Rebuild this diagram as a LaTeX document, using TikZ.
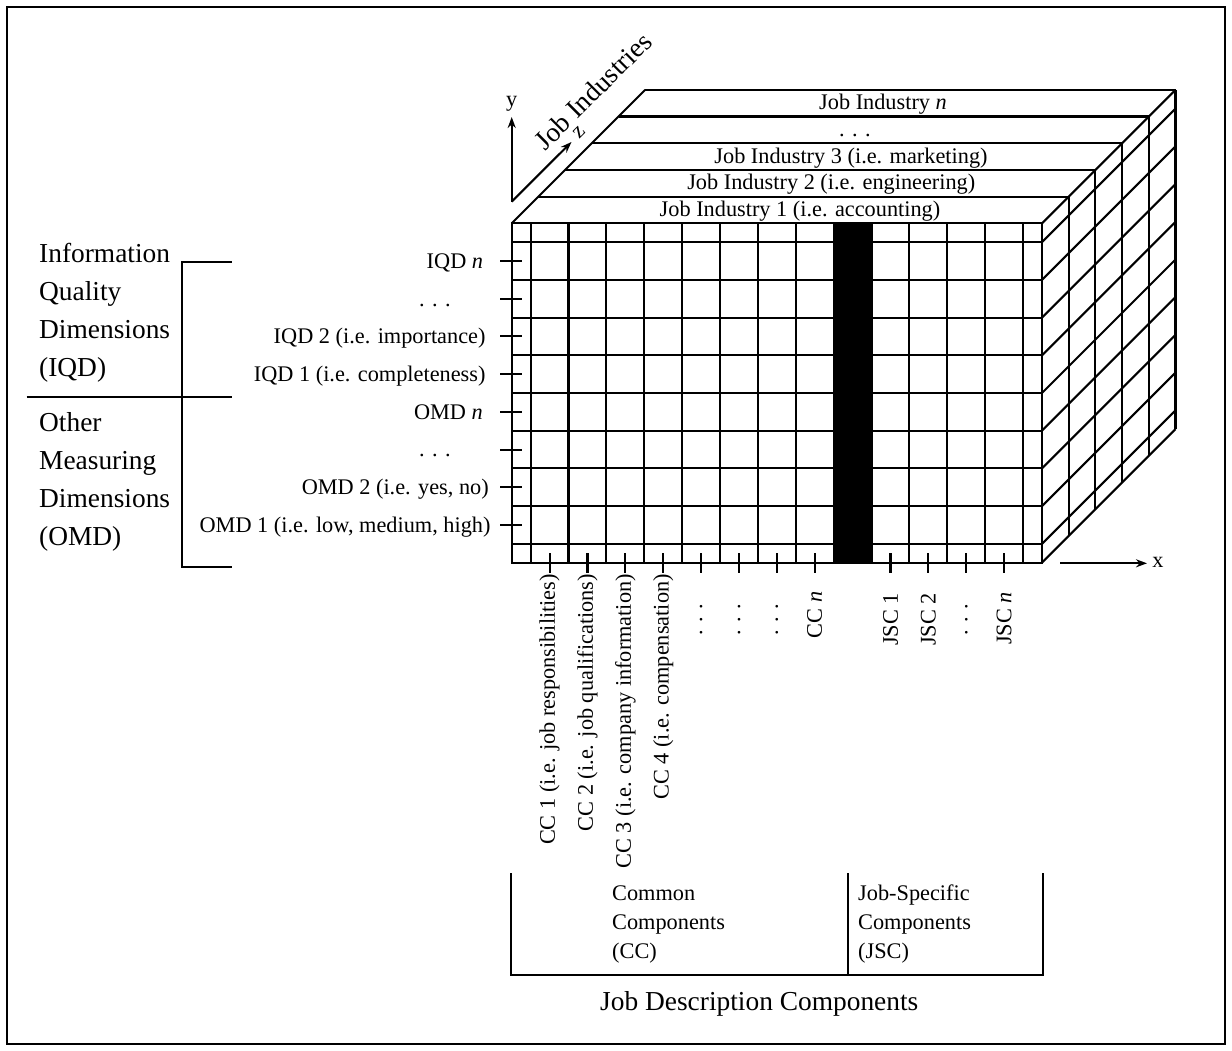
\documentclass[tikz,border=0pt]{standalone}
\usepackage{fontspec}
\setmainfont{Liberation Serif}
\usetikzlibrary{arrows.meta}
\begin{document}
\begin{tikzpicture}[x=1pt,y=-1pt,
  lbl/.style={font=\fontsize{22.3}{26}\selectfont, inner sep=0pt},
  big/.style={font=\fontsize{27.4}{38}\selectfont, inner sep=0pt},
  gl/.style={line width=2.1pt},
  ax/.style={line width=2.1pt, -{Stealth[length=11pt,width=8pt]}},
]
\useasboundingbox (0,0) rectangle (1232,1051);
\draw[line width=2.6pt] (7,7) rectangle (1225,1044);

\def\Xa{511.7}\def\Xb{1042}\def\Ya{223.3}\def\Yb{562.7}\def\dd{26.7}\def\cw{37.88}\def\rh{37.71}

% black column
\fill (\Xa+8.5*\cw,\Ya) rectangle (\Xa+9.5*\cw,\Yb);

% front grid
\draw[gl] (\Xa,\Ya) rectangle (\Xb,\Yb);
\foreach \k in {0,...,13}{\pgfmathsetmacro\xx{\Xa+\cw/2+\k*\cw}\draw[gl] (\xx,\Ya) -- (\xx,\Yb);}
\foreach \k in {0,...,8}{\pgfmathsetmacro\yy{\Ya+\rh/2+\k*\rh}
  \draw[gl] (\Xa,\yy) -- (\Xb,\yy);
  \draw[gl] (\Xb,\yy) -- ++(5*\dd,-5*\dd);}
\draw[gl] (\Xb,\Ya) -- ++(5*\dd,-5*\dd);
\draw[gl] (\Xb,\Yb) -- ++(5*\dd,-5*\dd);

% top face
\foreach \k in {1,...,5}{\draw[gl] (\Xa+\k*\dd,\Ya-\k*\dd) -- (\Xb+\k*\dd,\Ya-\k*\dd);}
\draw[gl] (\Xa,\Ya) -- ++(5*\dd,-5*\dd);
% right face verticals
\foreach \k in {1,...,5}{\draw[gl] (\Xb+\k*\dd,\Ya-\k*\dd) -- (\Xb+\k*\dd,\Yb-\k*\dd);}

% left ticks
\foreach \k in {1,...,8}{\pgfmathsetmacro\yy{\Ya+\k*\rh}\draw[gl] (500,\yy) -- (522,\yy);}
% bottom ticks
\foreach \k in {1,...,8,10,11,12,13}{\pgfmathsetmacro\xx{\Xa+\k*\cw}\draw[gl] (\xx,553) -- (\xx,573);}

% axes
\coordinate (O) at (511.7,201.7);
\coordinate (ytip) at (511.7,117);
\coordinate (ztip) at (571.5,142);
\draw[ax] (O) -- (ytip);
\draw[ax] (O) -- (ztip);
\node[lbl] (ylab) at (511.7,104) {y};
\node[lbl,rotate=45] (zlab) at (579,132) {z};
\coordinate (xo) at (1060,563.3);
\coordinate (xtip) at (1147,563.3);
\draw[ax] (xo) -- (xtip);
\node[lbl] (xlab) at (1158,562) {x};

\node[big,rotate=45] (jind) at (593,91) {Job Industries};

% industry layers
\node[lbl,anchor=base] (ji1) at (800,216.5) {Job Industry 1 (i.e. accounting)};
\node[lbl,anchor=base] (ji2) at (831.3,189.8) {Job Industry 2 (i.e. engineering)};
\node[lbl,anchor=base] (ji3) at (851,163.1) {Job Industry 3 (i.e. marketing)};
\node[lbl,anchor=base] (jid) at (855,136.4) {. . .};
\node[lbl,anchor=base] (jin) at (883,109.7) {Job Industry \textit{n}};

% row labels
\node[lbl,anchor=base east] (r1) at (483.3,268.3) {IQD \textit{n}};
\node[lbl,anchor=base] (r2) at (435,306) {. . .};
\node[lbl,anchor=base east] (r3) at (485.7,343.7) {IQD 2 (i.e. importance)};
\node[lbl,anchor=base east] (r4) at (485.7,381.4) {IQD 1 (i.e. completeness)};
\node[lbl,anchor=base east] (r5) at (483,419.1) {OMD \textit{n}};
\node[lbl,anchor=base] (r6) at (435,456.8) {. . .};
\node[lbl,anchor=base east] (r7) at (489,494.6) {OMD 2 (i.e. yes, no)};
\node[lbl,anchor=base east] (r8) at (490.7,532.3) {OMD 1 (i.e. low, medium, high)};

% left group labels
\node[big,anchor=base west] (g1) at (39,262) {Information};
\node[big,anchor=base west] (g2) at (39,300) {Quality};
\node[big,anchor=base west] (g3) at (39,338) {Dimensions};
\node[big,anchor=base west] (g4) at (39,376) {(IQD)};
\node[big,anchor=base west] (g5) at (39,431) {Other};
\node[big,anchor=base west] (g6) at (39,469) {Measuring};
\node[big,anchor=base west] (g7) at (39,507) {Dimensions};
\node[big,anchor=base west] (g8) at (39,545) {(OMD)};
\draw[gl] (231.7,262.3) -- (181.7,262.3) -- (181.7,566.7) -- (231.7,566.7);
\draw[gl] (26.7,396.7) -- (231.7,396.7);

% column labels
\node[lbl,rotate=90,anchor=east] (c1) at (549.6,574) {CC 1 (i.e. job responsibilities)};
\node[lbl,rotate=90,anchor=east] (c2) at (587.5,574) {CC 2 (i.e. job qualifications)};
\node[lbl,rotate=90,anchor=east] (c3) at (625.3,574) {CC 3 (i.e. company information)};
\node[lbl,rotate=90,anchor=east] (c4) at (663.2,574) {CC 4 (i.e. compensation)};
\node[lbl,rotate=90] (c5) at (701.1,620) {. . .};
\node[lbl,rotate=90] (c6) at (739,620) {. . .};
\node[lbl,rotate=90] (c7) at (776.9,620) {. . .};
\node[lbl,rotate=90,anchor=east] (c8) at (814.7,591.5) {CC \textit{n}};
\node[lbl,rotate=90,anchor=east] (j1) at (890.5,593) {JSC 1};
\node[lbl,rotate=90,anchor=east] (j2) at (928.4,593) {JSC 2};
\node[lbl,rotate=90] (j3) at (966.3,620) {. . .};
\node[lbl,rotate=90,anchor=east] (j4) at (1004.1,592) {JSC \textit{n}};

% bottom bracket
\draw[gl] (511,873) -- (511,975) -- (1043,975) -- (1043,873);
\draw[gl] (848,873) -- (848,975);
\node[lbl,anchor=base west] (b1) at (612,900) {Common};
\node[lbl,anchor=base west] (b2) at (612,929) {Components};
\node[lbl,anchor=base west] (b3) at (612,958) {(CC)};
\node[lbl,anchor=base west] (b4) at (858,900) {Job-Specific};
\node[lbl,anchor=base west] (b5) at (858,929) {Components};
\node[lbl,anchor=base west] (b6) at (858,958) {(JSC)};
\node[big,anchor=base west] (jdc) at (600,1010) {Job Description Components};
\end{tikzpicture}
\end{document}
